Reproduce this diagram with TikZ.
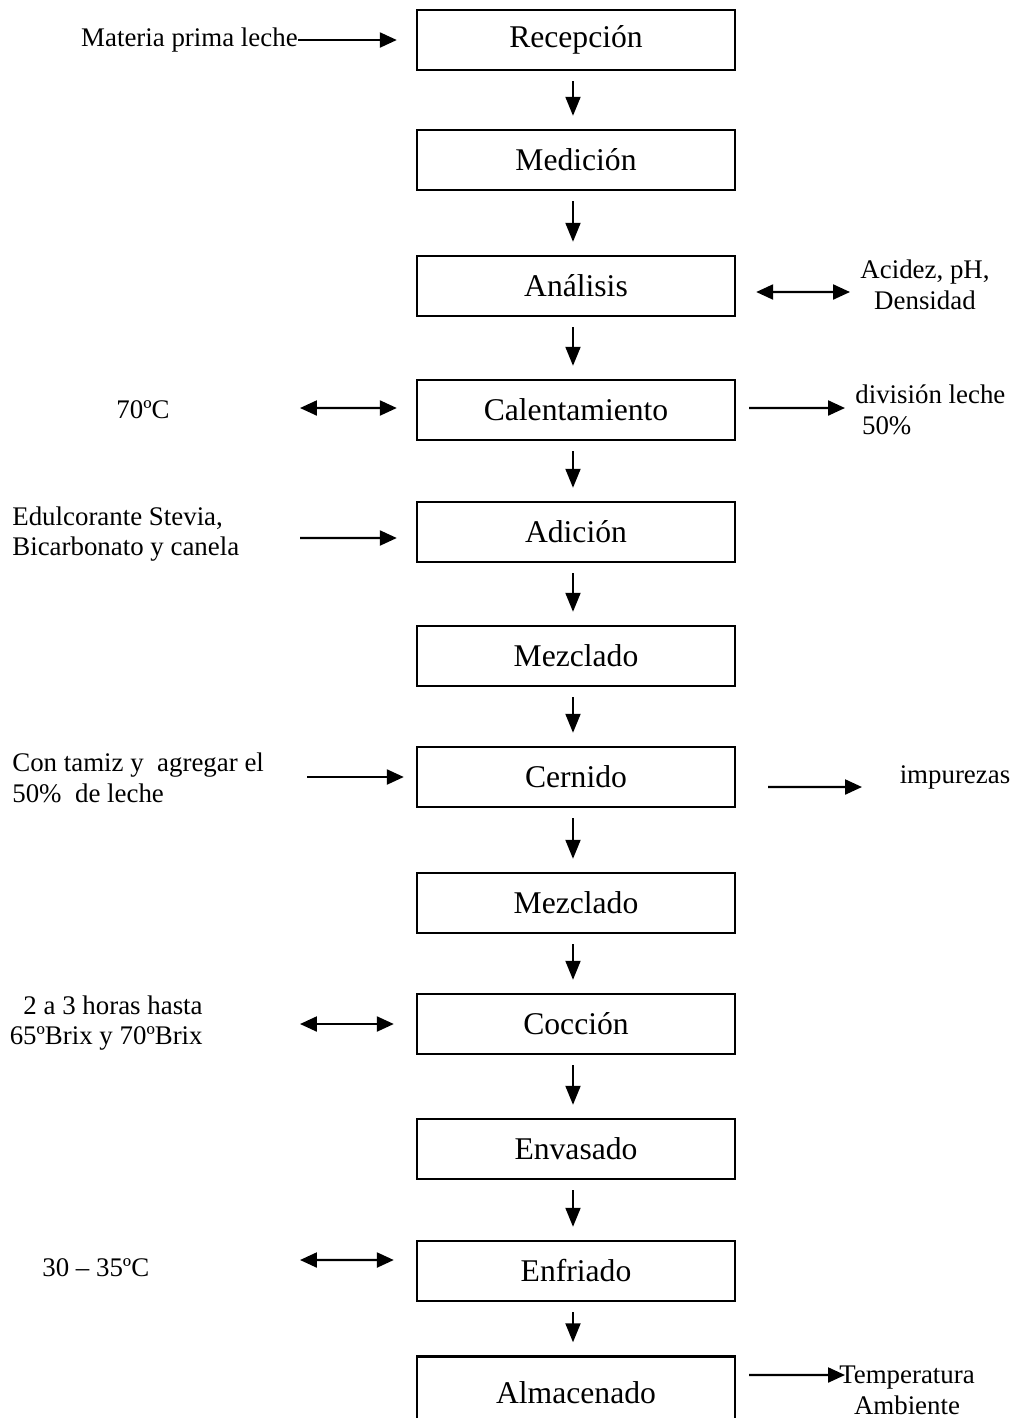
\documentclass[tikz,border=0pt]{standalone}
\usepackage{fontspec}
\setmainfont{Liberation Serif}
\usetikzlibrary{arrows.meta}

\begin{document}
\begin{tikzpicture}[x=0.02cm,y=-0.02cm,
  paso/.style={draw,line width=1.4pt,minimum width=6.36cm,minimum height=1.2cm,inner sep=0pt,font=\fontsize{18}{21}\selectfont},
  nota/.style={font=\fontsize{15.3}{17.5}\selectfont,inner sep=0pt},
  flecha/.style={line width=1.3pt,-{Triangle[length=0.34cm,width=0.3cm]}},
  doble/.style={line width=1.3pt,{Triangle[length=0.34cm,width=0.3cm]}-{Triangle[length=0.34cm,width=0.3cm]}},
  baja/.style={line width=1.1pt,-{Triangle[length=0.38cm,width=0.3cm]},shorten <=0.2cm,shorten >=0.26cm}]
\useasboundingbox (0,0) rectangle (1009,1418);
\clip (0,0) rectangle (1009,1418);
\node[paso] (rec) at (576,40) {Recepción};
\node[paso] (med) at (576,160) {Medición};
\node[paso] (ana) at (576,286) {Análisis};
\node[paso] (cal) at (576,410) {Calentamiento};
\node[paso] (adi) at (576,532) {Adición};
\node[paso] (mez1) at (576,656) {Mezclado};
\node[paso] (cer) at (576,777) {Cernido};
\node[paso] (mez2) at (576,903) {Mezclado};
\node[paso] (coc) at (576,1024) {Cocción};
\node[paso] (env) at (576,1149) {Envasado};
\node[paso] (enf) at (576,1271) {Enfriado};
\node[paso,minimum height=1.46cm] (alm) at (576,1393) {Almacenado};
\foreach \a/\b in {rec/med,med/ana,ana/cal,cal/adi,adi/mez1,mez1/cer,cer/mez2,mez2/coc,coc/env,env/enf,enf/alm}
  \draw[baja] ([xshift=-0.06cm]\a.south) -- ([xshift=-0.06cm]\b.north);
\node[nota,anchor=east] (mp) at (298,40) {Materia prima leche};
\draw[flecha,shorten >=0.38cm] (mp.east) -- (rec.west);
\node[nota,align=center] (acd) at (925,285) {Acidez, pH,\\Densidad};
\coordinate (acdf) at (850,292);
\draw[doble,shorten <=0.4cm] ([yshift=-0.12cm]ana.east) -- (acdf);
\node[nota] (t70) at (143,410) {70ºC};
\coordinate (t70f) at (300,408);
\draw[doble,shorten >=0.38cm] (t70f) -- ([yshift=0.04cm]cal.west);
\node[nota,anchor=west,align=left] (div) at (855,410) {división leche\\\hspace{0.25em}50\%};
\coordinate (divf) at (845,408);
\draw[flecha,shorten <=0.26cm] ([yshift=0.04cm]cal.east) -- (divf);
\node[nota,anchor=west,align=left] (edu) at (12,534) {Edulcorante Stevia,\\Bicarbonato y canela};
\coordinate (eduf) at (300,538);
\draw[flecha,shorten >=0.38cm] (eduf) -- ([yshift=-0.12cm]adi.west);
\node[nota,anchor=west,align=left] (tam) at (12,778) {Con tamiz y\ \ agregar el\\50\%\ \ de leche};
\coordinate (tamf) at (307,777);
\draw[flecha,shorten >=0.24cm] (tamf) -- (cer.west);
\node[nota] (imp) at (955,777) {impurezas};
\coordinate (impf) at (862,787);
\draw[flecha,shorten <=0.64cm] ([yshift=-0.2cm]cer.east) -- (impf);
\node[nota,anchor=east,align=right] (hrs) at (203,1023) {2 a 3 horas hasta\\65ºBrix y 70ºBrix};
\coordinate (hrsf) at (300,1024);
\draw[doble,shorten >=0.44cm] (hrsf) -- (coc.west);
\node[nota,anchor=west] (t30) at (42,1268) {30 -- 35ºC};
\coordinate (t30f) at (300,1260);
\draw[doble,shorten >=0.44cm] (t30f) -- ([yshift=0.22cm]enf.west);
\node[nota,align=center] (amb) at (907,1390) {Temperatura\\Ambiente};
\coordinate (ambf) at (845,1375);
\draw[flecha,shorten <=0.26cm] ([yshift=0.36cm]alm.east) -- (ambf);
\end{tikzpicture}
\end{document}
